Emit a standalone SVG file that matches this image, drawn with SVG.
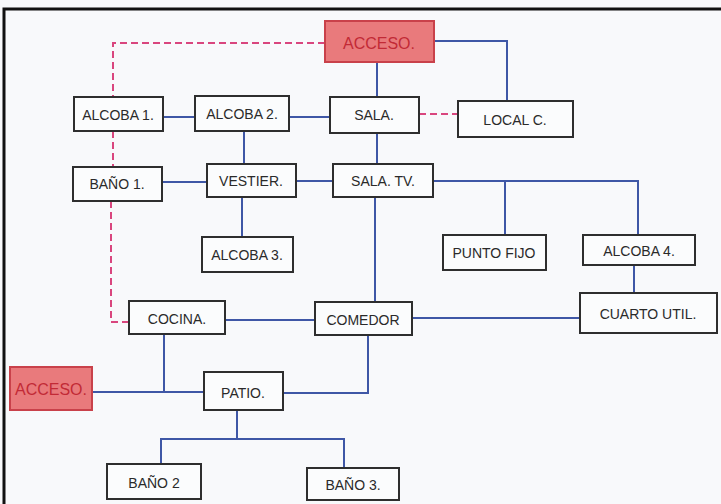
<svg xmlns="http://www.w3.org/2000/svg" width="721" height="504" viewBox="0 0 721 504">
<style>
.bg{fill:#f8f9fb}
.n rect{fill:#fbfcfd;stroke:#2e2e2e;stroke-width:2}
.n text{font-family:"Liberation Sans",Arial,sans-serif;font-size:14px;fill:#2a2a2a;text-anchor:middle;dominant-baseline:central}
.a rect{fill:#e97a7c;stroke:#c9414a;stroke-width:2}
.a text{font-family:"Liberation Sans",Arial,sans-serif;font-size:16px;fill:#c22a36;text-anchor:middle;dominant-baseline:central}
.b{fill:none;stroke:#3f57a6;stroke-width:2}
.p{fill:none;stroke:#d9467e;stroke-width:2;stroke-dasharray:7 4}
</style>
<rect class="bg" x="0" y="0" width="721" height="504"/>
<path d="M4 504 V9 H721" fill="none" stroke="#111" stroke-width="3"/>
<g id="connectors">
<path class="p" d="M325 43 H113 V97"/>
<path class="p" d="M113 131 V167"/>
<path class="p" d="M111 201 V322 H129"/>
<path class="p" d="M419 114 H458"/>
<path class="b" d="M163 117 H195"/>
<path class="b" d="M289 117 H330"/>
<path class="b" d="M434 41 H507 V101"/>
<path class="b" d="M377 62 V97"/>
<path class="b" d="M377 133 V164"/>
<path class="b" d="M244 131 V164"/>
<path class="b" d="M162 182 H207"/>
<path class="b" d="M296 181 H333"/>
<path class="b" d="M242 197 V237"/>
<path class="b" d="M433 181 H638 V235"/>
<path class="b" d="M505 181 V235"/>
<path class="b" d="M634 265 V293"/>
<path class="b" d="M375 197 V302"/>
<path class="b" d="M225 320 H315"/>
<path class="b" d="M412 318 H580"/>
<path class="b" d="M164 334 V392"/>
<path class="b" d="M92 392 H204"/>
<path class="b" d="M283 393 H368 V335"/>
<path class="b" d="M237 410 V440"/>
<path class="b" d="M161 465 V439 H344 V468"/>
</g>
<g id="acceso-top" class="a"><rect x="325" y="21" width="109" height="41"/><text x="379" y="43">ACCESO.</text></g>
<g id="acceso-left" class="a"><rect x="10" y="367" width="82" height="43"/><text x="51" y="389">ACCESO.</text></g>
<g id="alcoba1" class="n"><rect x="74" y="97" width="89" height="34"/><text x="118" y="115">ALCOBA 1.</text></g>
<g id="alcoba2" class="n"><rect x="195" y="96" width="94" height="35"/><text x="242" y="114">ALCOBA 2.</text></g>
<g id="sala" class="n"><rect x="330" y="97" width="89" height="36"/><text x="374" y="115">SALA.</text></g>
<g id="localc" class="n"><rect x="458" y="101" width="115" height="36"/><text x="515" y="120">LOCAL C.</text></g>
<g id="bano1" class="n"><rect x="73" y="167" width="89" height="34"/><text x="117" y="184">BAÑO 1.</text></g>
<g id="vestier" class="n"><rect x="207" y="164" width="89" height="33"/><text x="251" y="181">VESTIER.</text></g>
<g id="salatv" class="n"><rect x="333" y="164" width="100" height="33"/><text x="383" y="181">SALA. TV.</text></g>
<g id="alcoba3" class="n"><rect x="202" y="237" width="91" height="35"/><text x="247" y="255">ALCOBA 3.</text></g>
<g id="puntofijo" class="n"><rect x="443" y="235" width="103" height="35"/><text x="494" y="253">PUNTO FIJO</text></g>
<g id="alcoba4" class="n"><rect x="583" y="235" width="112" height="30"/><text x="639" y="251">ALCOBA 4.</text></g>
<g id="cocina" class="n"><rect x="129" y="301" width="96" height="33"/><text x="177" y="319">COCINA.</text></g>
<g id="comedor" class="n"><rect x="315" y="302" width="97" height="33"/><text x="363" y="320">COMEDOR</text></g>
<g id="cuartoutil" class="n"><rect x="580" y="293" width="137" height="40"/><text x="648" y="314">CUARTO UTIL.</text></g>
<g id="patio" class="n"><rect x="204" y="372" width="79" height="38"/><text x="243" y="393">PATIO.</text></g>
<g id="bano2" class="n"><rect x="107" y="464" width="94" height="35"/><text x="154" y="483">BAÑO 2</text></g>
<g id="bano3" class="n"><rect x="307" y="468" width="92" height="32"/><text x="353" y="485">BAÑO 3.</text></g>
</svg>
